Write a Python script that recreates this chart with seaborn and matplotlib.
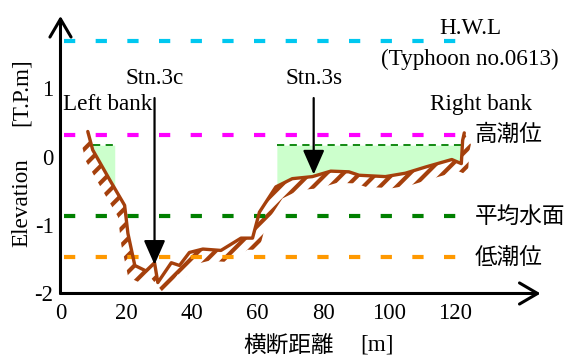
import numpy as np
import pandas as pd
import matplotlib
matplotlib.use("Agg")
import matplotlib.pyplot as plt
import seaborn as sns

# Dwarsprofiel
profile_x = [8.3, 9.8, 15, 19.5, 20.5, 22.6, 26, 28.6, 29.6, 33.7, 36.2, 39.2, 43.3, 48.8,
             54.9, 58.4, 60.5, 65.5, 70.5, 76.6, 82.2, 87.7, 90.8, 98.8, 104.9, 111, 119,
             121.9, 122.3, 122.8]
profile_y = [0.37, 0.10, -0.34, -0.71, -1.12, -1.59, -1.67, -1.55, -1.84, -1.55, -1.59, -1.40,
             -1.35, -1.37, -1.19, -1.19, -0.81, -0.44, -0.32, -0.29, -0.21, -0.22, -0.27, -0.29,
             -0.24, -0.15, -0.04, -0.10, 0.24, 0.35]

# Waterstanden
level_names = ["H.W.L", "高潮位", "平均水面", "低潮位"]
level_values = [1.69, 0.32, -0.87, -1.47]
level_colors = ["#00C8F0", "#FF00FF", "#008000", "#FF9900"]
level_x = [1, 123]

# Groene vlakken (water)
fill_top = 0.17
fill_left_x = [9.8, 16.5]
fill_right_x = [65.8, 122.5]

# Stations
stations = ["Stn.3c", "Stn.3s"]
station_x = [28.6, 77]
station_tip = [-1.62, -0.30]

xticks = [0, 20, 40, 60, 80, 100, 120]
yticks = [-2, -1, 0, 1]

sns.set_style("white")
plt.rcParams["font.family"] = ["Liberation Serif", "Noto Sans CJK JP"]
plt.rcParams["axes.unicode_minus"] = False
plt.rcParams["hatch.linewidth"] = 3.0
plt.rcParams["text.color"] = "black"
plt.rcParams["xtick.color"] = "black"
plt.rcParams["ytick.color"] = "black"
brown = "#A5400C"
jp = ["Noto Sans CJK JP"]
fs = 16.7

fig = plt.figure(figsize=(5.68, 3.56), dpi=100)
ax = fig.add_axes([0.1065, 0.1756, 0.8452, 0.7795])
ax.set_xlim(0, 146)
ax.set_ylim(-2, 2.06)

# water vlakken
px = np.array(profile_x)
py = np.array(profile_y)
mask_l = (px >= fill_left_x[0]) & (px <= fill_left_x[1])
xl = np.r_[fill_left_x[0], px[mask_l], fill_left_x[1]]
yl = np.r_[np.interp(fill_left_x[0], px, py), py[mask_l], np.interp(fill_left_x[1], px, py)]
ax.fill_between(xl, yl, fill_top, where=yl <= fill_top, color="#CCFFCC", lw=0, zorder=1)
mask_r = (px >= fill_right_x[0]) & (px <= fill_right_x[1])
xr = np.r_[fill_right_x[0], px[mask_r], fill_right_x[1]]
yr = np.r_[np.interp(fill_right_x[0], px, py), py[mask_r], np.interp(fill_right_x[1], px, py)]
ax.fill_between(xr, np.minimum(yr, fill_top), fill_top, color="#CCFFCC", lw=0, zorder=1)
for fx in [fill_left_x, fill_right_x]:
    ax.plot(fx, [fill_top, fill_top], color="#008000", lw=1.3, ls=(0, (4, 3)), zorder=2)

# gearceerde grond
shift = np.where(px < 29, -2.0, 2.0)
ground_x = np.r_[px, (px + shift)[::-1]]
ground_y = np.r_[py, (py - 0.17)[::-1]]
ax.fill(ground_x, ground_y, facecolor="white", edgecolor=brown, hatch="//", lw=0, zorder=2)

# waterstandlijnen
for val, col in zip(level_values, level_colors):
    ax.plot(level_x, [val, val], color=col, lw=3, ls=(0, (2.7, 4.9)), zorder=3)

# profiel
prof = pd.DataFrame({"x": profile_x, "y": profile_y})
sns.lineplot(data=prof, x="x", y="y", sort=False, color=brown, lw=2.4, ax=ax, zorder=4)

# stations
for name, sx, tip in zip(stations, station_x, station_tip):
    ax.annotate("", xy=(sx, tip), xytext=(sx, 0.9),
                arrowprops=dict(arrowstyle="-|>,head_length=0.75,head_width=0.33",
                                color="black", lw=1.6, mutation_scale=20), zorder=5)
    ax.text(sx, 1.15, name, ha="center", va="center", fontsize=fs)

# labels
ax.text(0.8, 0.76, "Left bank", ha="left", va="center", fontsize=fs)
ax.text(128, 0.77, "Right bank", ha="center", va="center", fontsize=fs)
ax.text(124.6, 1.87, "H.W.L", ha="center", va="center", fontsize=fs)
ax.text(124.6, 1.42, "(Typhoon no.0613)", ha="center", va="center", fontsize=fs)
for name, val in zip(level_names[1:], level_values[1:]):
    ax.text(126, val, name, ha="left", va="center", fontsize=16.3, family=jp)

# assen
for s in ax.spines.values():
    s.set_visible(False)
ax.annotate("", xy=(1, 0), xytext=(0, 0), xycoords="axes fraction",
            arrowprops=dict(arrowstyle="->,head_length=0.65,head_width=0.38",
                            color="black", lw=2.2, mutation_scale=20, shrinkA=0, shrinkB=0))
ax.annotate("", xy=(0, 1), xytext=(0, 0), xycoords="axes fraction",
            arrowprops=dict(arrowstyle="->,head_length=0.65,head_width=0.38",
                            color="black", lw=2.2, mutation_scale=20, shrinkA=0, shrinkB=0))
ax.set_xticks(xticks)
ax.set_yticks(yticks)
ax.tick_params(direction="in", length=7, width=1.6, labelsize=16.3, pad=5)
ax.tick_params(axis="x", pad=7)
ax.set_xlabel("")
ax.set_ylabel("")

fig.text(0.587, 0.03, "横断距離", ha="right", va="center", fontsize=16.3, family=jp)
fig.text(0.634, 0.03, "[m]", ha="left", va="center", fontsize=fs)
fig.text(0.038, 0.43, "Elevation", rotation=90, ha="center", va="center", fontsize=fs)
fig.text(0.038, 0.74, "[T.P.m]", rotation=90, ha="center", va="center", fontsize=fs)

fig.savefig("out.png", dpi=100)
